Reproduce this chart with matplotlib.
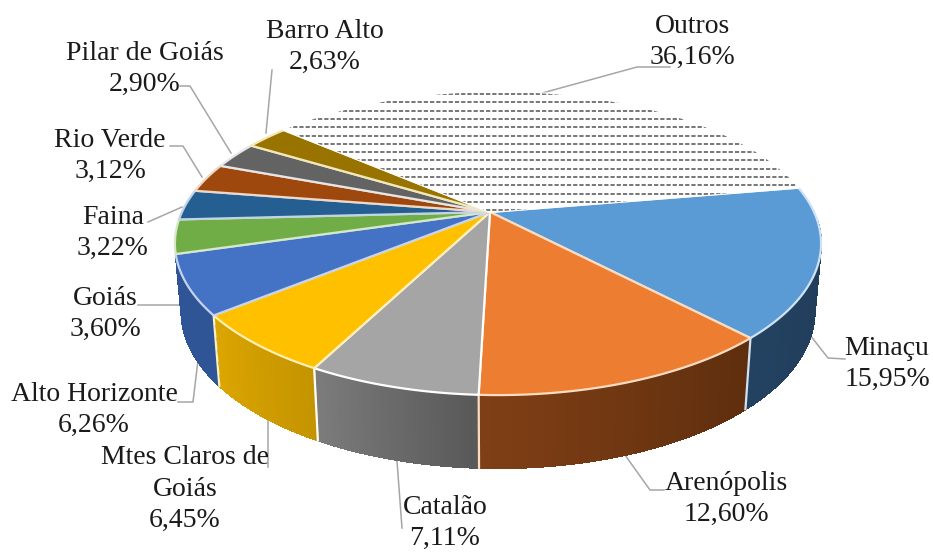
import numpy as np
import matplotlib
matplotlib.use('Agg')
import matplotlib.pyplot as plt
from matplotlib.colors import to_rgb
from matplotlib.patches import Polygon

plt.rcParams['font.family'] = ['Liberation Serif', 'DejaVu Serif']

names = ['Minaçu', 'Arenópolis', 'Catalão', 'Mtes Claros de\nGoiás', 'Alto Horizonte',
         'Goiás', 'Faina', 'Rio Verde', 'Pilar de Goiás', 'Barro Alto', 'Outros']
shares = [15.95, 12.60, 7.11, 6.45, 6.26, 3.60, 3.22, 3.12, 2.90, 2.63, 36.16]
pct_text = ['15,95%', '12,60%', '7,11%', '6,45%', '6,26%', '3,60%', '3,22%', '3,12%', '2,90%', '2,63%', '36,16%']
top_colors = ['#5b9bd5', '#ed7d31', '#a5a5a5', '#ffc000', '#4472c4', '#70ad47',
              '#255e91', '#9e480e', '#636363', '#997300', '#ffffff']
side_left = ['#234261', '#7f3f15', '#7c7c7c', '#dca600', '#2f5597', '#4c7a30',
             '#1a4166', '#6e3209', '#454545', '#6a5000', '#ffffff']
side_right = ['#1f3a55', '#5e2e0e', '#585858', '#c49400', '#2f5597', '#4c7a30',
              '#1a4166', '#6e3209', '#454545', '#6a5000', '#ffffff']
edge_colors = ['#cfe3f5', '#fbdcc0', '#ffffff', '#fff0b8', '#c5d3ee', '#d6e8c8',
               '#c0d4e6', '#f0d8c8', '#e6e6e6', '#f2e8b8', '#ffffff']

label_xy = [(887, 364), (726, 499), (445, 523), (185, 489), (94, 410),
            (105, 314), (113, 233), (110, 156), (145, 69), (325, 47), (692, 42)]
leaders = [[(845, 359), (828, 358), (810, 335)],
           [(664, 490), (650, 490), (625, 455)],
           [(402, 528), (397, 461)],
           [(268, 467), (268, 420)],
           [(178, 402), (193, 402), (198, 360)],
           [(138, 305), (183, 305)],
           [(148, 222), (182, 207)],
           [(170, 146), (183, 146), (202, 177)],
           [(180, 86), (190, 86), (231, 153)],
           [(272, 70), (266, 133)],
           [(670, 67), (637, 67), (535, 95)]]

# pie projection, pixels
cx, cy = 490, 212
mid_x = 498
a, b, k = 316, 145, 0.208
start = 10.0
n_walls = 5  # only the front slices show a wall


def rim(t):
    u, v = np.cos(t), np.sin(t)
    w = 1 + k * v
    return mid_x + a * u / w, cy - b * v / w


def rim_low(t):
    x, y = rim(t)
    return mid_x + (x - mid_x) * 0.98, y + 66 - 7 * np.sin(t)


fig = plt.figure(figsize=(9.33, 5.52), dpi=100)
ax = fig.add_axes([0, 0, 1, 1])
ax.set_xlim(0, 933)
ax.set_ylim(552, 0)
ax.axis('off')

edges = np.radians(start - np.cumsum([0] + shares) * 3.6)

# side walls
for i in range(n_walls):
    ts = np.linspace(edges[i], edges[i + 1], 60)
    x, y = rim(ts)
    xl, yl = rim_low(ts)
    c0 = np.array(to_rgb(side_right[i]))
    c1 = np.array(to_rgb(side_left[i]))
    for j in range(len(ts) - 1):
        if np.sin(ts[j]) > -0.05 or np.sin(ts[j + 1]) > -0.05:
            continue
        col = c0 + (c1 - c0) * j / (len(ts) - 2)
        ax.add_patch(Polygon([(x[j], y[j]), (x[j + 1], y[j + 1]), (xl[j + 1], yl[j + 1]), (xl[j], yl[j])],
                             fc=col, ec=col, lw=0.8, zorder=2, antialiased=False))
    if i < n_walls - 1:
        xe, ye = rim(edges[i + 1])
        xf, yf = rim_low(edges[i + 1])
        ax.plot([xe, xf], [ye, yf], color=edge_colors[i], lw=1.6, zorder=3)

# top face
for i in range(len(shares)):
    ts = np.linspace(edges[i], edges[i + 1], 120)
    x, y = rim(ts)
    pts = [(cx, cy)] + list(zip(x, y))
    p = Polygon(pts, fc=top_colors[i], ec=edge_colors[i], lw=1.6, zorder=4, joinstyle='round')
    ax.add_patch(p)
    if names[i] == 'Outros':
        for yy in np.arange(94, 215, 8.3):
            ln, = ax.plot([150, 860], [yy, yy], color='#777777', lw=1.4, zorder=5,
                          dashes=(2.2, 1.0), dash_capstyle='butt')
            ln.set_clip_path(p)

# leaders and labels
for pts in leaders:
    ax.plot(*zip(*pts), color='#a6a6a6', lw=1.1, zorder=1)
for name, pct, (lx, ly) in zip(names, pct_text, label_xy):
    ax.text(lx, ly, name + '\n' + pct, ha='center', va='center', fontsize=20,
            color='#1a1a1a', linespacing=1.33, zorder=6)

fig.savefig('out.png', dpi=100)
